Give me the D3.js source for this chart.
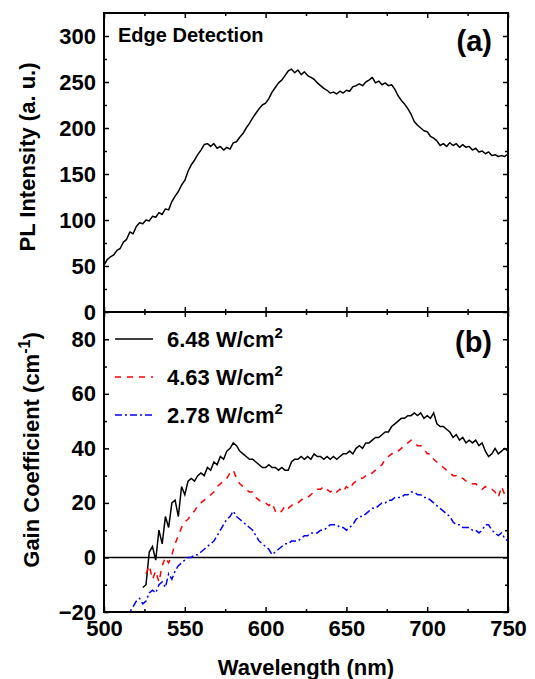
<!DOCTYPE html>
<html>
<head>
<meta charset="utf-8">
<script src="https://cdn.jsdelivr.net/npm/d3@7/dist/d3.min.js"></script>
<style>
  body { margin: 0; background: #fff; }
  text { font-family: "Liberation Sans", Arial, sans-serif; font-weight: bold; fill: #000; }
</style>
</head>
<body>
<div id="chart"></div>
<script>
// sampling grid (nm), one point every 2 nm
var wavelength = d3.range(500, 751, 2);

// (a) PL intensity, a.u.
var plIntensity = [
  51, 57, 60, 62, 67, 69, 76, 79, 87, 85,
  93, 97, 96, 100, 99, 104, 103, 108, 106, 112,
  111, 120, 126, 131, 138, 143, 153, 160, 165, 171,
  176, 182, 183, 180, 183, 178, 180, 176, 179, 177,
  184, 185, 190, 194, 200, 205, 211, 216, 221, 225,
  227, 232, 239, 244, 249, 252, 257, 262, 264, 260,
  263, 258, 261, 257, 255, 253, 249, 246, 243, 241,
  238, 239, 237, 240, 238, 241, 240, 245, 246, 248,
  246, 250, 252, 255, 249, 251, 247, 249, 246, 247,
  242, 235, 230, 226, 221, 215, 207, 203, 200, 197,
  196, 191, 189, 186, 181, 183, 180, 184, 181, 183,
  179, 182, 179, 180, 176, 178, 174, 175, 172, 174,
  170, 171, 169, 170, 169, 172
];

// (b) gain coefficient, cm^-1
var gain648 = [
  null, null, null, null, null, null, null, null, null, null,
  null, null, -11, -10, 2, 4, -1, 10, 5, 15,
  11, 20, 21, 15, 26, 23, 28, 29, 28, 30,
  31, 30, 33, 32, 35, 34, 37, 36, 39, 40,
  42, 41, 39, 38, 37, 36, 36, 35, 34, 33,
  33, 34, 33, 33, 32, 33, 32, 32, 35, 36,
  36, 37, 36, 37, 36, 38, 37, 37, 36, 37,
  36, 37, 36, 37, 38, 38, 39, 38, 40, 41,
  40, 42, 42, 43, 44, 44, 45, 46, 46, 48,
  49, 50, 51, 51, 52, 52, 53, 52, 53, 51,
  52, 51, 53, 49, 48, 48, 47, 46, 44, 45,
  43, 44, 42, 43, 42, 43, 41, 42, 39, 37,
  38, 40, 38, 39, 40, 39
];
var gain463 = [
  null, null, null, null, null, null, null, null, null, null,
  null, null, null, -6, -3, -8, -5, -9, -3, 0,
  -2, 1, 5, 8, 11, 13, 14, 16, 17, 19,
  20, 21, 22, 23, 24, 26, 27, 28, 29, 31,
  32, 29, 27, 26, 25, 24, 24, 22, 21, 20,
  20, 19, 20, 17, 16, 17, 19, 18, 19, 20,
  20, 21, 22, 22, 23, 24, 25, 25, 26, 25,
  24, 25, 24, 25, 24, 26, 25, 27, 28, 29,
  29, 30, 30, 31, 32, 33, 34, 36, 37, 38,
  38, 39, 40, 41, 42, 43, 42, 41, 41, 40,
  38, 38, 36, 35, 34, 33, 32, 31, 30, 30,
  29, 29, 28, 28, 27, 27, 26, 25, 26, 25,
  25, 24, 22, 26, 23, 24
];
var gain278 = [
  null, null, null, null, null, null, null, -23, -20, -18,
  -16, -15, -17, -16, -13, -12, -13, -10, -9, -11,
  -6, -8, -5, -3, -2, -1, 0, 0, 1, 1,
  2, 3, 4, 5, 6, 8, 10, 12, 14, 15,
  17, 15, 14, 13, 12, 11, 10, 8, 6, 5,
  4, 3, 1, 2, 3, 4, 5, 5, 6, 6,
  6, 7, 8, 8, 9, 9, 9, 10, 10, 11,
  12, 12, 12, 11, 11, 10, 11, 12, 14, 15,
  15, 16, 17, 18, 18, 19, 20, 20, 21, 21,
  22, 22, 22, 23, 23, 24, 24, 23, 23, 22,
  22, 21, 20, 19, 18, 17, 16, 15, 13, 12,
  12, 11, 11, 11, 10, 10, 9, 10, 12, 12,
  10, 9, 8, 9, 7, 6
];

var legendLabels = ["6.48 W/cm", "4.63 W/cm", "2.78 W/cm"];
var xTicks = [500, 550, 600, 650, 700, 750];
var xMinor = [525, 575, 625, 675, 725];
var plTicks = [0, 50, 100, 150, 200, 250, 300];
var plMinor = [25, 75, 125, 175, 225, 275];
var gainTicks = [-20, 0, 20, 40, 60, 80];
var gainMinor = [-10, 10, 30, 50, 70];

var width = 535, height = 679;
var padL = 104, padR = 508, panelTop = 13, panelMid = 312, panelBot = 612;

var svg = d3.select("#chart").append("svg")
  .attr("width", width)
  .attr("height", height);

var x = d3.scaleLinear().domain([500, 750]).range([padL, padR]);
var yPL = d3.scaleLinear().domain([0, 325]).range([panelMid, panelTop]);
var yGain = d3.scaleLinear().domain([-20, 90]).range([panelBot, panelMid]);

var noLabel = function () { return ""; };

// draws a set of inward ticks (with or without labels)
function ticks(g, axis, values, size, labelled) {
  g.call(axis.tickValues(values).tickSize(size).tickPadding(8)
    .tickFormat(labelled ? d3.format("d") : noLabel));
  g.select(".domain").remove();
  g.selectAll("line").attr("stroke", "#000").attr("stroke-width", 1.5);
  g.selectAll("text").attr("font-size", 22).attr("font-family", null).attr("fill", "#000");
  return g;
}

function frameAxes(yScale, yMajor, yMinor, y0, y1, showX) {
  var gl = svg.append("g").attr("transform", "translate(" + padL + ",0)");
  ticks(gl.append("g"), d3.axisLeft(yScale), yMajor, -5, true);
  ticks(gl.append("g"), d3.axisLeft(yScale), yMinor, -3, false);

  var gr = svg.append("g").attr("transform", "translate(" + padR + ",0)");
  ticks(gr.append("g"), d3.axisRight(yScale), yMajor, -5, false);
  ticks(gr.append("g"), d3.axisRight(yScale), yMinor, -3, false);

  var gt = svg.append("g").attr("transform", "translate(0," + y0 + ")");
  ticks(gt.append("g"), d3.axisTop(x), xTicks, -5, false);
  ticks(gt.append("g"), d3.axisTop(x), xMinor, -3, false);

  var gb = svg.append("g").attr("transform", "translate(0," + y1 + ")");
  ticks(gb.append("g"), d3.axisBottom(x), xTicks, -5, showX);
  ticks(gb.append("g"), d3.axisBottom(x), xMinor, -3, false);

  svg.append("rect")
    .attr("x", padL).attr("y", y0)
    .attr("width", padR - padL).attr("height", y1 - y0)
    .attr("fill", "none").attr("stroke", "#000").attr("stroke-width", 2);
}

// clip paths for each panel
var defs = svg.append("defs");
defs.append("clipPath").attr("id", "clipA").append("rect")
  .attr("x", padL).attr("y", panelTop).attr("width", padR - padL).attr("height", panelMid - panelTop);
defs.append("clipPath").attr("id", "clipB").append("rect")
  .attr("x", padL).attr("y", panelMid).attr("width", padR - padL).attr("height", panelBot - panelMid);

// ---- panel (a)
var plLine = d3.line()
  .x(function (d, i) { return x(wavelength[i]); })
  .y(function (d) { return yPL(d); });

svg.append("path")
  .datum(plIntensity)
  .attr("clip-path", "url(#clipA)")
  .attr("d", plLine)
  .attr("fill", "none")
  .attr("stroke", "#000")
  .attr("stroke-width", 1.5)
  .attr("stroke-linejoin", "round");

// ---- panel (b)
var gainLine = d3.line()
  .defined(function (d) { return d !== null; })
  .x(function (d, i) { return x(wavelength[i]); })
  .y(function (d) { return yGain(d); });

svg.append("line")
  .attr("x1", padL).attr("x2", padR)
  .attr("y1", yGain(0)).attr("y2", yGain(0))
  .attr("stroke", "#000").attr("stroke-width", 1.5);

var series = [
  { values: gain648, color: "#000000", dash: null },
  { values: gain463, color: "#ff0000", dash: "6,6" },
  { values: gain278, color: "#0000ff", dash: "7,3,2,3" }
];

svg.selectAll("path.gain")
  .data(series)
  .enter().append("path")
  .attr("class", "gain")
  .attr("clip-path", "url(#clipB)")
  .attr("d", function (d) { return gainLine(d.values); })
  .attr("fill", "none")
  .attr("stroke", function (d) { return d.color; })
  .attr("stroke-width", 1.5)
  .attr("stroke-dasharray", function (d) { return d.dash; });

frameAxes(yPL, plTicks, plMinor, panelTop, panelMid, false);
frameAxes(yGain, gainTicks, gainMinor, panelMid, panelBot, true);

// legend
var legend = svg.selectAll("g.legend")
  .data(series)
  .enter().append("g")
  .attr("class", "legend")
  .attr("transform", function (d, i) { return "translate(0," + (339 + i * 38) + ")"; });

legend.append("line")
  .attr("x1", 115).attr("x2", 153)
  .attr("stroke", function (d) { return d.color; })
  .attr("stroke-width", 1.5)
  .attr("stroke-dasharray", function (d) { return d.dash; });

var lt = legend.append("text")
  .attr("x", 167).attr("y", 8)
  .attr("font-size", 22)
  .text(function (d, i) { return legendLabels[i]; });
lt.append("tspan").attr("dy", -9).attr("font-size", 15).text("2");

// titles and panel labels
svg.append("text")
  .attr("x", 118).attr("y", 42)
  .attr("font-size", 20)
  .text("Edge Detection");

svg.append("text")
  .attr("x", 492).attr("y", 51)
  .attr("text-anchor", "end")
  .attr("font-size", 29)
  .text("(a)");

svg.append("text")
  .attr("x", 492).attr("y", 352)
  .attr("text-anchor", "end")
  .attr("font-size", 29)
  .text("(b)");

svg.append("text")
  .attr("transform", "translate(35,157) rotate(-90)")
  .attr("text-anchor", "middle")
  .attr("font-size", 22)
  .text("PL Intensity (a. u.)");

var glab = svg.append("text")
  .attr("transform", "translate(39,450) rotate(-90)")
  .attr("text-anchor", "middle")
  .attr("font-size", 22)
  .text("Gain Coefficient (cm");
glab.append("tspan").attr("dy", -9).attr("font-size", 16).text("-1");
glab.append("tspan").attr("dy", 9).text(")");

svg.append("text")
  .attr("x", (padL + padR) / 2).attr("y", 675)
  .attr("text-anchor", "middle")
  .attr("font-size", 22)
  .text("Wavelength (nm)");
</script>
</body>
</html>
